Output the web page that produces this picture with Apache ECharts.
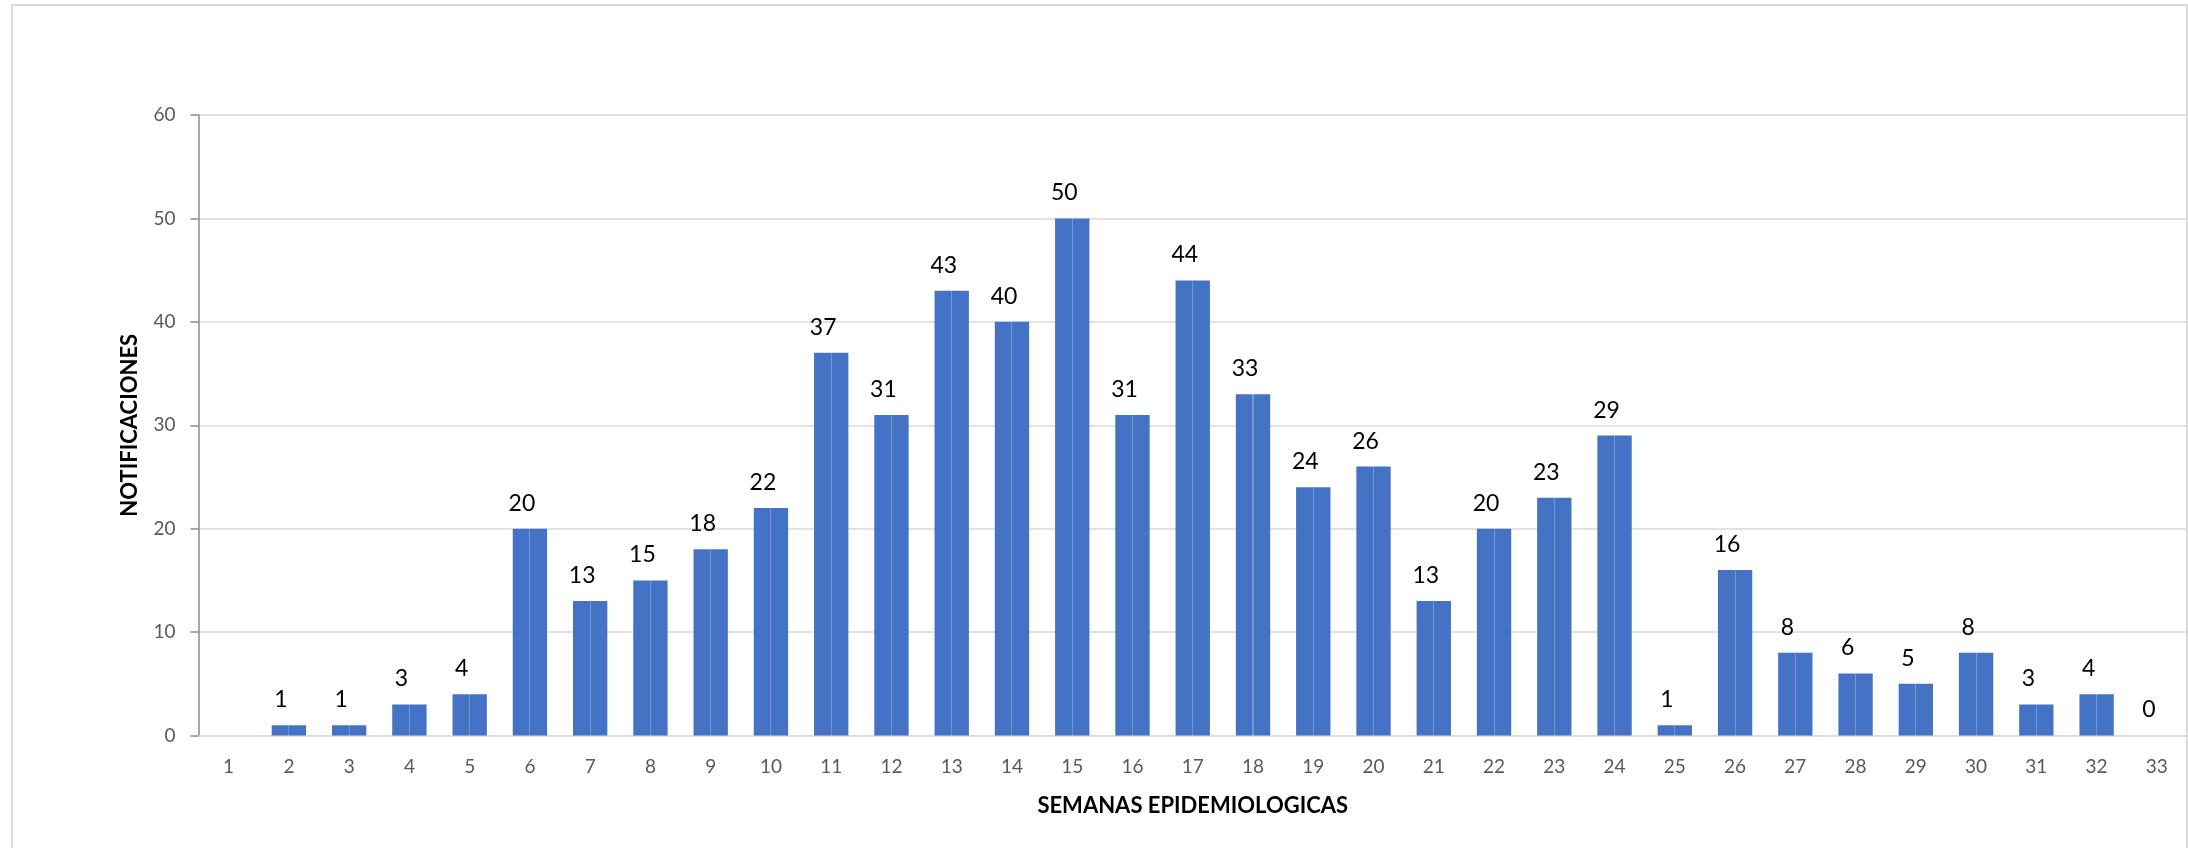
<!DOCTYPE html>
<html>
<head>
<meta charset="utf-8">
<script src="https://cdn.jsdelivr.net/npm/echarts@6/dist/echarts.min.js"></script>
<style>
  html, body { margin: 0; padding: 0; background: #ffffff; }
  #chart { width: 2188px; height: 848px; }
</style>
</head>
<body>
<div id="chart"></div>
<script>
// Data
const weeks = ['1','2','3','4','5','6','7','8','9','10','11','12','13','14','15','16','17','18','19','20','21','22','23','24','25','26','27','28','29','30','31','32','33'];
const notifications = [null, 1, 1, 3, 4, 20, 13, 15, 18, 22, 37, 31, 43, 40, 50, 31, 44, 33, 24, 26, 13, 20, 23, 29, 1, 16, 8, 6, 5, 8, 3, 4, 0];
const yTicks = { min: 0, max: 60, interval: 10 };
const xTitle = 'SEMANAS EPIDEMIOLOGICAS';
const yTitle = 'NOTIFICACIONES';

const chart = echarts.init(document.getElementById('chart'), null, { renderer: 'canvas' });
const numFont = 'Lato, "Open Sans", sans-serif';
const titleFont = 'Lato, "Open Sans", sans-serif';

const barColor = {
  type: 'linear', x: 0, y: 0, x2: 1, y2: 0,
  colorStops: [
    { offset: 0, color: '#4472c4' },
    { offset: 0.485, color: '#4472c4' },
    { offset: 0.485, color: '#7497d6' },
    { offset: 0.515, color: '#7497d6' },
    { offset: 0.515, color: '#4472c4' },
    { offset: 1, color: '#4472c4' }
  ]
};

chart.setOption({
  backgroundColor: '#ffffff',
  animation: false,
  graphic: [{
    type: 'rect',
    shape: { x: 12, y: 5, width: 2175, height: 900 },
    style: { fill: 'none', stroke: '#d9d9d9', lineWidth: 2 },
    silent: true
  }],
  grid: { left: 198.5, right: 1, top: 115, bottom: 112.5, containLabel: false },
  xAxis: {
    type: 'category',
    data: weeks,
    name: xTitle,
    nameLocation: 'middle',
    nameGap: 59,
    nameTextStyle: { fontFamily: titleFont, fontWeight: 'bold', fontSize: 22, color: '#000000' },
    axisLine: { show: true, lineStyle: { color: '#d9d9d9', width: 1.5 } },
    axisTick: { show: false },
    axisLabel: { fontFamily: numFont, fontSize: 19, color: '#595959', margin: 22, interval: 0 }
  },
  yAxis: {
    type: 'value',
    min: yTicks.min, max: yTicks.max, interval: yTicks.interval,
    name: yTitle,
    nameLocation: 'middle',
    nameGap: 58,
    nameTextStyle: { fontFamily: titleFont, fontWeight: 'bold', fontSize: 22, color: '#000000' },
    axisLine: { show: true, lineStyle: { color: '#8c8c8c', width: 1.5 } },
    axisTick: { show: true, length: 8, inside: false, lineStyle: { color: '#8c8c8c', width: 1.5 } },
    splitLine: { show: true, lineStyle: { color: '#d9d9d9', width: 1.5 } },
    axisLabel: { fontFamily: numFont, fontSize: 19, color: '#595959', margin: 23 }
  },
  series: [{
    type: 'bar',
    data: notifications,
    barWidth: '57%',
    itemStyle: { color: barColor, borderWidth: 0 },
    label: {
      show: true,
      position: 'top',
      distance: 14,
      offset: [-8, 0],
      fontFamily: numFont,
      fontSize: 23,
      color: '#000000'
    }
  }]
});
</script>
</body>
</html>
